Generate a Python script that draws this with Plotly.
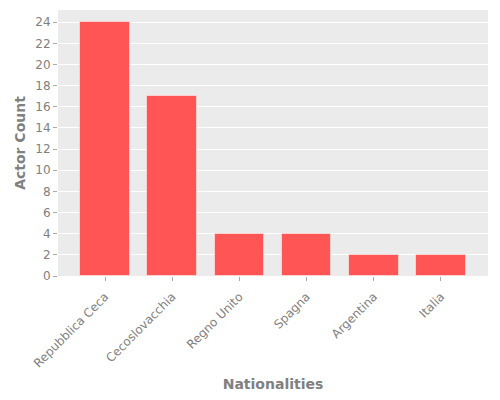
import plotly.graph_objects as go

nationalities = ["Repubblica Ceca", "Cecoslovacchia", "Regno Unito", "Spagna", "Argentina", "Italia"]
actor_counts = [24, 17, 4, 4, 2, 2]
y_ticks = list(range(0, 25, 2))

fig = go.Figure(go.Bar(
    x=nationalities, y=actor_counts, width=0.74,
    marker=dict(color="#FF5555", line=dict(color="rgba(255,255,255,0.5)", width=1)),
))
font = "DejaVu Sans"
fig.update_layout(
    width=500, height=400,
    margin=dict(l=58, r=12, t=10, b=124, autoexpand=False),
    paper_bgcolor="white", plot_bgcolor="#EBEBEB",
    font=dict(family=font, color="#808080", size=12),
    showlegend=False, bargap=0,
    xaxis=dict(
        range=[-0.7, 5.7], tickangle=-45, showgrid=False, zeroline=False, automargin=False,
        ticks="outside", ticklen=4, tickcolor="#AAAAAA", ticklabelstandoff=4,
        tickfont=dict(size=12, color="#808080"),
        title=dict(text="<b>Nationalities</b>", font=dict(size=14, color="#808080"), standoff=9),
    ),
    yaxis=dict(
        range=[0, 25.15], tickvals=y_ticks, showgrid=True, gridcolor="white", gridwidth=1,
        zeroline=False, ticks="outside", ticklen=4, tickcolor="#AAAAAA", automargin=False,
        tickfont=dict(size=12, color="#808080"),
        title=dict(text="<b>Actor Count</b>", font=dict(size=14, color="#808080"), standoff=6),
    ),
)
fig.write_html("out.html")
